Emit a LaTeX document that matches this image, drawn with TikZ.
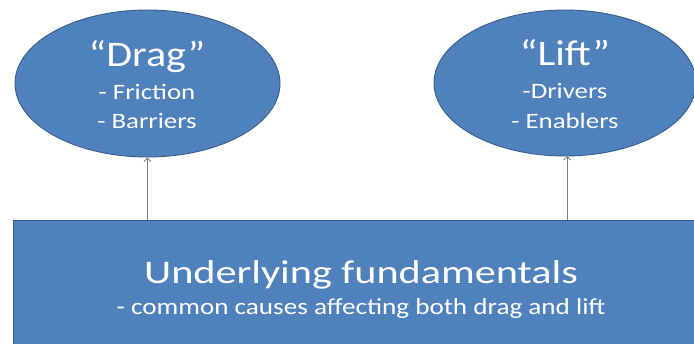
\documentclass[tikz,border=0pt]{standalone}
\usepackage{fontspec}
\setmainfont{Carlito}
\usetikzlibrary{shapes.geometric,arrows.meta}
\definecolor{boxfill}{HTML}{4F81BD}
\definecolor{boxline}{HTML}{3A5E8C}
\definecolor{connline}{HTML}{808080}
\tikzset{
  bubble/.style={ellipse, draw=boxline, line width=0.9pt, fill=boxfill, inner sep=0pt},
  basebox/.style={rectangle, draw=boxline, line width=0.9pt, fill=boxfill, inner sep=0pt},
  bigtxt/.style={anchor=base, text=white, inner sep=0pt, font=\fontsize{36}{36}\selectfont},
  midtxt/.style={anchor=base, text=white, inner sep=0pt, font=\fontsize{33}{33}\selectfont},
  smalltxt/.style={anchor=base, text=white, inner sep=0pt, font=\fontsize{22}{22}\selectfont},
  subtxt/.style={anchor=base, text=white, inner sep=0pt, font=\fontsize{23}{23}\selectfont},
  conn/.style={draw=connline, line width=0.8pt, -{Straight Barb[length=3.5pt,width=7pt]}}
}
\begin{document}
\begin{tikzpicture}[x=1pt,y=1pt]
  \useasboundingbox (0,0) rectangle (694,-343);
  \clip (0,0) rectangle (694,-343);
  % the two outcome bubbles
  \node[bubble, minimum width=265pt, minimum height=147pt] (drag) at (147.5,-83.5) {};
  \node[bubble, minimum width=262pt, minimum height=146pt] (lift) at (565,-83) {};
  % the common base
  \node[basebox, minimum width=696pt, minimum height=170pt] (base) at (361,-305) {};
  % bubble texts
  \node[bigtxt] (dragt) at (147,-66) {\scalebox{1.17}[1]{“Drag”}};
  \node[smalltxt] (drag1) at (147,-99) {\scalebox{1.22}[1]{- Friction}};
  \node[smalltxt] (drag2) at (147,-128) {\scalebox{1.22}[1]{- Barriers}};
  \node[bigtxt] (liftt) at (565,-65) {\scalebox{1.17}[1]{“Lift”}};
  \node[smalltxt] (lift1) at (565,-98) {\scalebox{1.22}[1]{-Drivers}};
  \node[smalltxt] (lift2) at (565,-128) {\scalebox{1.22}[1]{- Enablers}};
  % base texts
  \node[midtxt] (baset) at (361,-283) {\scalebox{1.28}[1]{Underlying fundamentals}};
  \node[subtxt] (base1) at (361,-314) {\scalebox{1.18}[1]{- common causes affecting both drag and lift}};
  % connectors
  \draw[conn] (base.north -| drag.south) -- (drag.south);
  \draw[conn] (base.north -| 567,0) -- (567,-156);
\end{tikzpicture}
\end{document}
